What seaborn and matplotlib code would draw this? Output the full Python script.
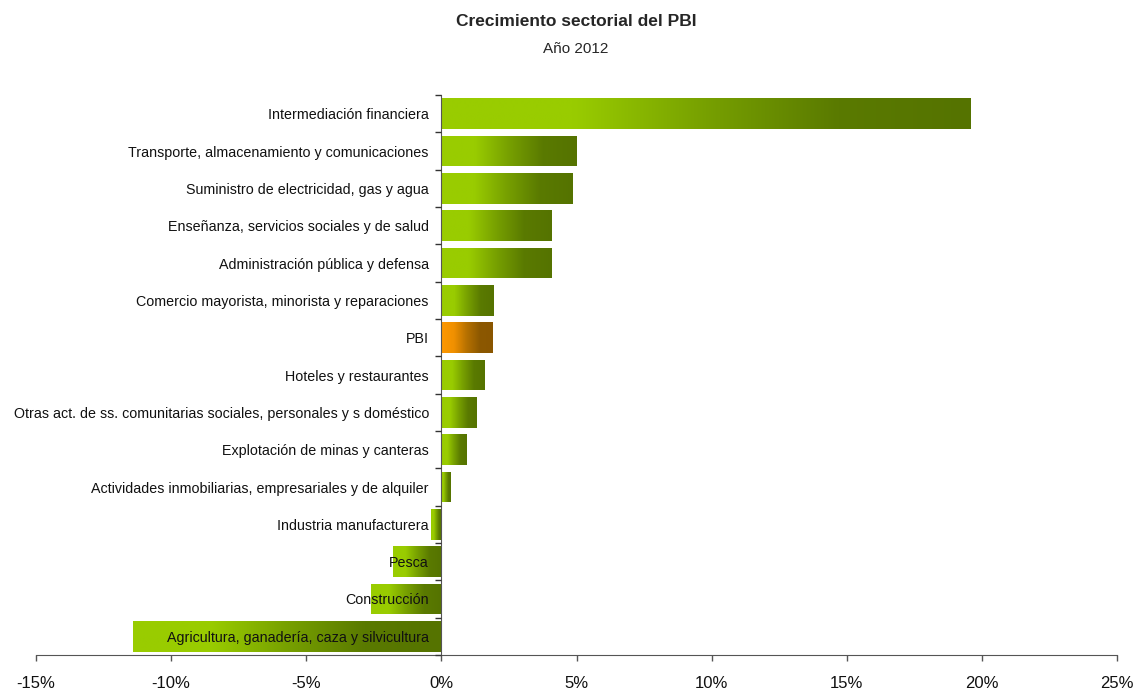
import numpy as np
import pandas as pd
import matplotlib
matplotlib.use('Agg')
import matplotlib.pyplot as plt
import seaborn as sns
from matplotlib.colors import LinearSegmentedColormap
from matplotlib.ticker import FixedLocator, FuncFormatter

###############################################################################
# Data
###############################################################################
sectores = [
    'Intermediación financiera',
    'Transporte, almacenamiento y comunicaciones',
    'Suministro de electricidad, gas y agua',
    'Enseñanza, servicios sociales y de salud',
    'Administración pública y defensa',
    'Comercio mayorista, minorista y reparaciones',
    'PBI',
    'Hoteles y restaurantes',
    'Otras act. de ss. comunitarias sociales, personales y s doméstico',
    'Explotación de minas y canteras',
    'Actividades inmobiliarias, empresariales y de alquiler',
    'Industria manufacturera',
    'Pesca',
    'Construcción',
    'Agricultura, ganadería, caza y silvicultura',
]
crecimiento = [19.6, 5.0, 4.85, 4.1, 4.1, 1.95, 1.9, 1.6, 1.3, 0.95, 0.35,
               -0.4, -1.8, -2.6, -11.4]
x_ticks = [-15, -10, -5, 0, 5, 10, 15, 20, 25]

df = pd.DataFrame({'sector': sectores, 'valor': crecimiento})

###############################################################################
# Plot
###############################################################################
sns.set_style('white')
plt.rcParams['font.family'] = ['Liberation Sans', 'DejaVu Sans']

fig = plt.figure(figsize=(11.37, 6.9), dpi=100)
ax = fig.add_axes([36 / 1137, 1 - 655 / 690, (1117 - 36) / 1137, (655 - 95) / 690])

sns.barplot(data=df, x='valor', y='sector', orient='h', width=0.83,
            color='#99cc00', ax=ax, saturation=1)

verde = LinearSegmentedColormap.from_list(
    'verde', ['#99cc00', '#99cc00', '#77a000', '#5a7a00', '#557300'])
naranja = LinearSegmentedColormap.from_list(
    'naranja', ['#ff9900', '#f09000', '#b57000', '#8c5800', '#8a5600'])
grad = np.linspace(0, 1, 256).reshape(1, -1)

for patch, nombre in zip(ax.patches, sectores):
    x0, y0 = patch.get_x(), patch.get_y()
    w, h = patch.get_width(), patch.get_height()
    cmap = naranja if nombre == 'PBI' else verde
    im = ax.imshow(grad, cmap=cmap, aspect='auto', interpolation='bilinear',
                   extent=[min(x0, x0 + w), max(x0, x0 + w), y0 + h, y0],
                   zorder=2)
    im.set_clip_path(patch)
    patch.set_facecolor('none')
    patch.set_edgecolor('none')

ax.set_xlim(-15, 25)
ax.set_ylim(len(sectores) - 0.5, -0.5)
ax.set_aspect('auto')
ax.set_axisbelow(False)

# Axes aesthetics
ax.set_xlabel('')
ax.set_ylabel('')
ax.spines['top'].set_visible(False)
ax.spines['right'].set_visible(False)
ax.spines['left'].set_position(('data', 0))
ax.spines['left'].set_color('#555555')
ax.spines['bottom'].set_color('#555555')

ax.xaxis.set_major_locator(FixedLocator(x_ticks))
ax.xaxis.set_major_formatter(FuncFormatter(lambda v, p: f'{v:.0f}%'))
ax.tick_params(axis='x', direction='out', length=4, width=1, color='#555555',
               pad=11, labelsize=12, bottom=True, colors='#111111')

ax.yaxis.set_minor_locator(FixedLocator(np.arange(-0.5, len(sectores), 1)))
ax.tick_params(axis='y', which='major', length=0, pad=9, labelsize=10.3,
               colors='#111111')
ax.tick_params(axis='y', which='minor', direction='out', length=4, width=1,
               color='#333333', left=True)

# Titles
fig.text(576 / 1137, 1 - 22 / 690, 'Crecimiento sectorial del PBI',
         ha='center', va='center', fontsize=12.5, fontweight='bold')
fig.text(576 / 1137, 1 - 49 / 690, 'Año 2012', ha='center', va='center',
         fontsize=11)

fig.savefig('out.png', dpi=100)
plt.close()
